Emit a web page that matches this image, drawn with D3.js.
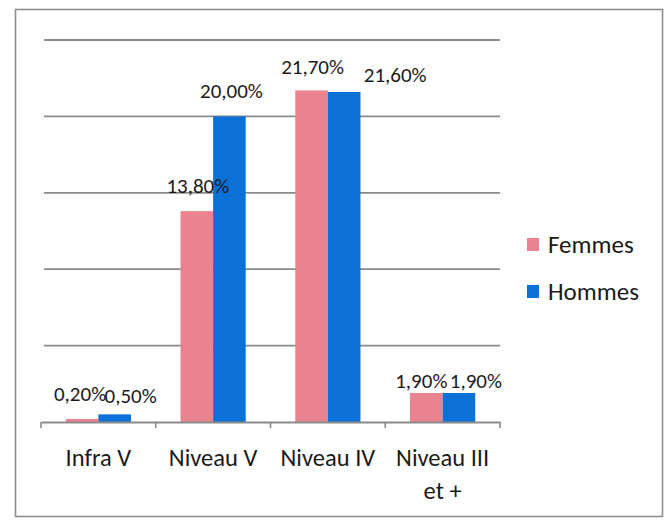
<!DOCTYPE html>
<html><head><meta charset="utf-8">
<script src="https://cdn.jsdelivr.net/npm/d3@7"></script>
<style>
html,body{margin:0;padding:0;background:#fff;}
svg{display:block;font-family:Carlito,Lato,"Open Sans",sans-serif;}
</style></head>
<body>
<svg id="chart" width="671" height="520"></svg>
<script>
const categories = [["Infra V"], ["Niveau V"], ["Niveau IV"], ["Niveau III", "et +"]];
const seriesNames = ["Femmes", "Hommes"];
const femmes = [0.2, 13.8, 21.7, 1.9];
const hommes = [0.5, 20.0, 21.6, 1.9];
const femmesLabels = ["0,20%", "13,80%", "21,70%", "1,90%"];
const hommesLabels = ["0,50%", "20,00%", "21,60%", "1,90%"];
const yTicks = [0, 5, 10, 15, 20, 25];
const colors = ["#e8838f", "#0b71d7"];
// label nudges (dx, dy) imitating the original manual placement
const nudgeF = [[-2,0],[1,0],[1,2],[-5,13]];
const nudgeH = [[16,7],[2,0],[51,8],[17,13]];

const svg = d3.select("#chart");
const x0 = d3.scaleBand().domain(d3.range(categories.length)).range([41, 500]).paddingInner(0).paddingOuter(0);
const x1 = d3.scaleBand().domain(seriesNames).range([0, x0.bandwidth()]).paddingInner(0).paddingOuter(0.76);
const y = d3.scaleLinear().domain([0, 25]).range([422, 40]);

// outer frame
svg.append("rect").attr("x", 15.5).attr("y", 9.5).attr("width", 647).attr("height", 507)
  .attr("fill", "#fff").attr("stroke", "#8c8c8c").attr("stroke-width", 1.6);

// gridlines
svg.append("g").selectAll("line").data(yTicks.filter(d => d > 0)).join("line")
  .attr("x1", 44).attr("x2", 500)
  .attr("y1", d => y(d)).attr("y2", d => y(d))
  .attr("stroke", "#8a8a8a").attr("stroke-width", 1.8);

const series = [femmes, hommes];
const labels = [femmesLabels, hommesLabels];
const nudges = [nudgeF, nudgeH];

// bars
seriesNames.forEach((s, si) => {
  svg.append("g").selectAll("rect").data(series[si]).join("rect")
    .attr("x", (d, i) => x0(i) + x1(s))
    .attr("width", x1.bandwidth())
    .attr("y", d => y(d))
    .attr("height", d => y(0) - y(d))
    .attr("fill", colors[si]);
});

// axis
const axis = d3.axisBottom(x0).tickSize(0).tickFormat("");
const gx = svg.append("g").attr("transform", `translate(0,${y(0)})`).call(axis);
gx.select(".domain").attr("stroke", "#8a8a8a").attr("stroke-width", 1.8);
const boundaries = d3.range(categories.length + 1).map(i => x0.range()[0] + i * x0.step());
gx.selectAll(".bt").data(boundaries).join("line").attr("class", "bt")
  .attr("x1", d => d).attr("x2", d => d).attr("y1", 0).attr("y2", 6)
  .attr("stroke", "#8a8a8a").attr("stroke-width", 1.6);

// category labels
const cl = svg.append("g").selectAll("text").data(categories).join("text")
  .attr("text-anchor", "middle").attr("font-size", 24.5).attr("fill", "#1a1a1a")
  .attr("x", (d, i) => x0(i) + x0.bandwidth() / 2).attr("y", 466);
cl.selectAll("tspan").data(d => d).join("tspan")
  .attr("x", function () { return d3.select(this.parentNode).attr("x"); })
  .attr("dy", (d, i) => i === 0 ? 0 : 33)
  .text(d => d);

// data labels
seriesNames.forEach((s, si) => {
  svg.append("g").selectAll("text").data(series[si]).join("text")
    .attr("text-anchor", "middle").attr("font-size", 21).attr("fill", "#1a1a1a")
    .attr("x", (d, i) => x0(i) + x1(s) + x1.bandwidth() / 2 + nudges[si][i][0])
    .attr("y", (d, i) => y(d) - 18 + nudges[si][i][1])
    .text((d, i) => labels[si][i]);
});

// legend
const leg = svg.append("g").selectAll("g").data(seriesNames).join("g")
  .attr("transform", (d, i) => `translate(527,${238 + i * 47})`);
leg.append("rect").attr("width", 12).attr("height", 13).attr("fill", (d, i) => colors[i]);
leg.append("text").attr("x", 21).attr("y", 15).attr("font-size", 25).attr("fill", "#1a1a1a").text(d => d);
</script>
</body></html>
